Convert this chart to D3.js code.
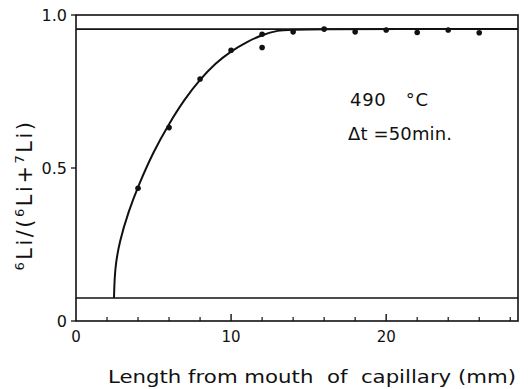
<!DOCTYPE html>
<html>
<head>
<meta charset="utf-8">
<script src="https://cdn.jsdelivr.net/npm/d3@7"></script>
<style>
  body { margin: 0; background: #fff; }
  text { font-family: "DejaVu Sans", sans-serif; fill: #111; }
</style>
</head>
<body>
<div id="chart"></div>
<script>
// measured points (length in mm, 6Li fraction)
const pointX = [4, 6, 8, 10, 12, 12, 14, 16, 18, 20, 22, 24, 26];
const pointY = [0.434, 0.632, 0.791, 0.885, 0.937, 0.894, 0.945, 0.954, 0.945, 0.951, 0.943, 0.951, 0.942];

// hand-drawn fit curve
const curveX = [2.45, 2.5, 2.8, 3.4, 4.0, 5.0, 6.0, 7.0, 8.0, 9.0, 10.0, 11.0, 12.0, 13.0, 14.0, 28.5];
const curveY = [0.075, 0.17, 0.26, 0.36, 0.44, 0.555, 0.645, 0.725, 0.79, 0.843, 0.882, 0.912, 0.935, 0.95, 0.954, 0.954];

// reference levels
const levels = [0.954, 0.075];

const xTicksMajor = [0, 10, 20];
const xTicksMinor = [2, 4, 6, 8, 12, 14, 16, 18, 22, 24, 26, 28];
const yTicks = [0, 0.5, 1.0];

const width = 528, height = 389;
const margin = { top: 15, right: 10, bottom: 68, left: 76 };

const svg = d3.select('#chart').append('svg')
    .attr('width', width)
    .attr('height', height);

const x = d3.scaleLinear().domain([0, 28.5]).range([margin.left, width - margin.right]);
const y = d3.scaleLinear().domain([0, 1]).range([height - margin.bottom, margin.top]);

// frame
svg.append('rect')
    .attr('x', x(0)).attr('y', y(1))
    .attr('width', x(28.5) - x(0))
    .attr('height', y(0) - y(1))
    .attr('fill', 'none')
    .attr('stroke', '#111')
    .attr('stroke-width', 1.6);

// x ticks (inward)
svg.append('g').selectAll('line')
    .data(xTicksMinor)
    .enter().append('line')
    .attr('x1', d => x(d)).attr('x2', d => x(d))
    .attr('y1', y(0)).attr('y2', y(0) - 4)
    .attr('stroke', '#111').attr('stroke-width', 1.2);

svg.append('g').selectAll('line')
    .data(xTicksMajor.slice(1))
    .enter().append('line')
    .attr('x1', d => x(d)).attr('x2', d => x(d))
    .attr('y1', y(0)).attr('y2', y(0) - 7)
    .attr('stroke', '#111').attr('stroke-width', 1.4);

svg.append('g').selectAll('text')
    .data(xTicksMajor)
    .enter().append('text')
    .attr('x', d => x(d))
    .attr('y', y(0) + 21)
    .attr('text-anchor', 'middle')
    .attr('font-size', 15)
    .text(d => d);

// y ticks (outward)
svg.append('g').selectAll('line')
    .data(yTicks)
    .enter().append('line')
    .attr('x1', x(0) - 5).attr('x2', x(0))
    .attr('y1', d => y(d)).attr('y2', d => y(d))
    .attr('stroke', '#111').attr('stroke-width', 1.3);

svg.append('g').selectAll('text')
    .data(yTicks)
    .enter().append('text')
    .attr('x', x(0) - 9)
    .attr('y', d => y(d) + 6)
    .attr('text-anchor', 'end')
    .attr('font-size', 16)
    .text(d => d === 0 ? '0' : d.toFixed(1));

// horizontal reference lines
svg.append('g').selectAll('line')
    .data(levels)
    .enter().append('line')
    .attr('x1', x(0)).attr('x2', x(28.5))
    .attr('y1', d => y(d)).attr('y2', d => y(d))
    .attr('stroke', '#111')
    .attr('stroke-width', 1.6);

// fitted curve
const curveData = curveX.map((d, i) => [d, curveY[i]]);
svg.append('path')
    .datum(curveData)
    .attr('fill', 'none')
    .attr('stroke', '#111')
    .attr('stroke-width', 2)
    .attr('d', d3.line()
        .x(d => x(d[0]))
        .y(d => y(d[1]))
        .curve(d3.curveBasis));

// data points
svg.append('g').selectAll('circle')
    .data(pointX.map((d, i) => [d, pointY[i]]))
    .enter().append('circle')
    .attr('cx', d => x(d[0]))
    .attr('cy', d => y(d[1]))
    .attr('r', 2.8)
    .attr('fill', '#111');

// annotation
svg.append('text')
    .attr('x', 350).attr('y', 106)
    .attr('font-size', 18)
    .attr('textLength', 78)
    .attr('xml:space', 'preserve')
    .text('490   °C');

svg.append('text')
    .attr('x', 348).attr('y', 140)
    .attr('font-size', 18)
    .attr('textLength', 104)
    .text('Δt =50min.');

// axis titles
svg.append('text')
    .attr('x', 108).attr('y', 383)
    .attr('font-size', 18)
    .attr('textLength', 408)
    .attr('lengthAdjust', 'spacingAndGlyphs')
    .attr('xml:space', 'preserve')
    .text('Length from mouth  of  capillary (mm)');

const yTitle = svg.append('text')
    .attr('transform', 'translate(32,195) rotate(-90)')
    .attr('text-anchor', 'middle')
    .attr('font-size', 21)
    .attr('letter-spacing', 2.5);

yTitle.append('tspan').attr('font-size', 13).attr('dy', -8).text('6');
yTitle.append('tspan').attr('dy', 8).text('Li/(');
yTitle.append('tspan').attr('font-size', 13).attr('dy', -8).text('6');
yTitle.append('tspan').attr('dy', 8).text('Li+');
yTitle.append('tspan').attr('font-size', 13).attr('dy', -8).text('7');
yTitle.append('tspan').attr('dy', 8).text('Li)');
</script>
</body>
</html>
